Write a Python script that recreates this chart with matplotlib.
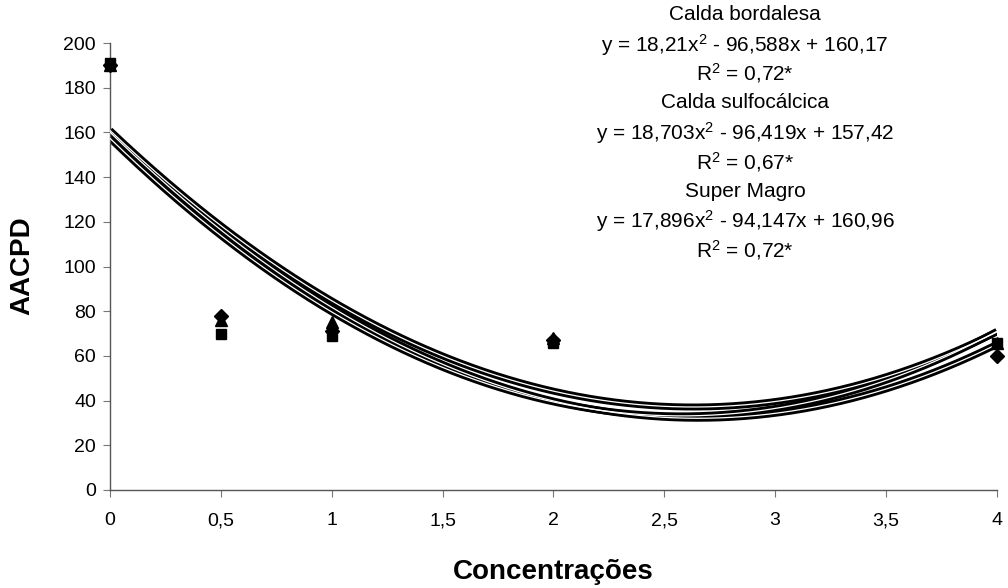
import numpy as np
import matplotlib
matplotlib.use("Agg")
import matplotlib.pyplot as plt

plt.rcParams['font.family'] = ['Liberation Sans', 'DejaVu Sans']

# Data
concentrations = [0, 0.5, 1, 2, 4]
bordalesa = [190, 78, 71, 67, 60]      # diamonds
sulfocalcica = [191, 70, 69, 66, 66]   # squares
super_magro = [190, 76, 75, 68, 66]    # triangles

# Regression coefficients (a, b, c) for y = a x^2 + b x + c
coef_bordalesa = (18.21, -96.588, 160.17)
coef_sulfocalcica = (18.703, -96.419, 157.42)
coef_super_magro = (17.896, -94.147, 160.96)

annotations = [
    "Calda bordalesa",
    "y = 18,21x$^{2}$ - 96,588x + 160,17",
    "R$^{2}$ = 0,72*",
    "Calda sulfocálcica",
    "y = 18,703x$^{2}$ - 96,419x + 157,42",
    "R$^{2}$ = 0,67*",
    "Super Magro",
    "y = 17,896x$^{2}$ - 94,147x + 160,96",
    "R$^{2}$ = 0,72*",
]

xticks = [0, 0.5, 1, 1.5, 2, 2.5, 3, 3.5, 4]
xticklabels = ["0", "0,5", "1", "1,5", "2", "2,5", "3", "3,5", "4"]
yticks = list(range(0, 201, 20))

plt.rcParams['mathtext.fontset'] = 'custom'
plt.rcParams['mathtext.rm'] = 'Liberation Sans'
plt.rcParams['mathtext.it'] = 'Liberation Sans'
plt.rcParams['mathtext.default'] = 'regular'

fig = plt.figure(figsize=(10.08, 5.88), dpi=100)
ax = fig.add_axes([0.109, 0.1667, 0.880, 0.760])

xs = np.linspace(0, 4, 300)
for a, b, c in [coef_bordalesa, coef_sulfocalcica, coef_super_magro]:
    ys = a * xs**2 + b * xs + c
    ax.plot(xs, ys, color='black', lw=5.0, solid_capstyle='butt', zorder=2)
for a, b, c in [coef_bordalesa, coef_sulfocalcica, coef_super_magro]:
    ys = a * xs**2 + b * xs + c
    ax.plot(xs, ys, color='white', lw=0.9, solid_capstyle='butt', zorder=3)

ax.plot(concentrations, bordalesa, 'D', color='black', ms=7, ls='none', zorder=4, clip_on=False)
ax.plot(concentrations, sulfocalcica, 's', color='black', ms=7, ls='none', zorder=4, clip_on=False)
ax.plot(concentrations, super_magro, '^', color='black', ms=8, ls='none', zorder=4, clip_on=False)

ax.set_xlim(0, 4)
ax.set_ylim(0, 200)
ax.set_xticks(xticks)
ax.set_xticklabels(xticklabels)
ax.set_yticks(yticks)
for s in ['top', 'right']:
    ax.spines[s].set_visible(False)
for s in ['left', 'bottom']:
    ax.spines[s].set_color('#555555')
    ax.spines[s].set_linewidth(1.0)
ax.tick_params(axis='both', direction='out', length=5, color='#777777', labelsize=14)
ax.tick_params(axis='x', pad=11)
ax.tick_params(axis='y', pad=5)

fig.text(0.022, 0.548, "AACPD", rotation=90, fontsize=20, fontweight='bold', ha='center', va='center')
fig.text(0.549, 0.027, "Concentrações", fontsize=20, fontweight='bold', ha='center', va='center')

ys_px = [15, 45, 73, 103, 133, 162, 191, 221, 250]
for txt, yp in zip(annotations, ys_px):
    fig.text(745 / 1008, 1 - yp / 588, txt, fontsize=15, ha='center', va='center')

fig.savefig("out.png", dpi=100)
